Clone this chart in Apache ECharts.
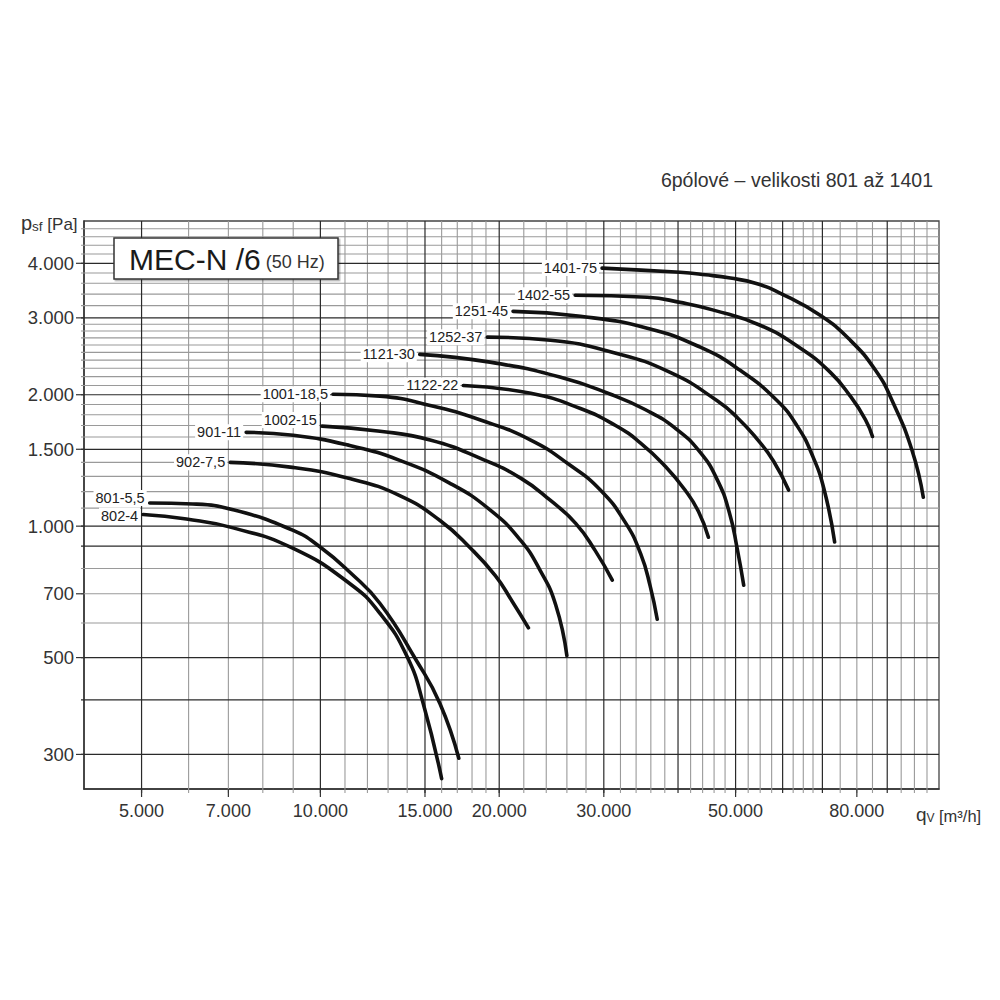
<!DOCTYPE html>
<html><head><meta charset="utf-8">
<script src="https://cdn.jsdelivr.net/npm/echarts@6/dist/echarts.min.js"></script>
<style>html,body{margin:0;padding:0;background:#fff}#c{width:1000px;height:1000px}</style>
</head><body><div id="c"></div>
<script>
const FONT = '"Liberation Sans", Arial, Helvetica, sans-serif';
const X_MIN = 4000, X_MAX = 110000, Y_MIN = 250, Y_MAX = 5000;

// tick labels
const xTickLabels = [5000, 7000, 10000, 15000, 20000, 30000, 50000, 80000];
const yTickLabels = [300, 500, 700, 1000, 1500, 2000, 3000, 4000];

// grid lines
const xGridMajor = [5000, 10000, 15000, 20000, 30000, 40000, 50000, 60000, 70000, 90000];
const xGridMinor = [6000, 7000, 8000, 9000, 11000, 12000, 13000, 14000, 16000, 17000, 18000, 19000,
  22000, 24000, 26000, 28000, 32000, 34000, 36000, 38000, 42000, 44000, 46000, 48000,
  52500, 55000, 57500, 62500, 65000, 67500, 75000, 80000, 85000, 95000, 100000, 105000];
const yGridMajor = [300, 400, 500, 900, 1000, 1500, 2000, 3000, 4000];
const yGridMinor = [600, 700, 800, 1100, 1200, 1300, 1400, 1600, 1700, 1800, 1900,
  2100, 2200, 2300, 2400, 2500, 2600, 2700, 2800, 2900, 3200, 3400, 3600, 3800, 4200, 4400, 4600, 4800];

// fan curves: [q_V m3/h, p_sf Pa]
const c801_5_5 = [[5160,1130],[6100,1124],[7130,1090],[9000,978],[9990,896],[11200,785],[12600,665],[14500,493],[15900,392],[17100,294]];
const c802_4 = [[5030,1063],[5950,1038],[7130,991],[9000,889],[11200,739],[12600,631],[14000,502],[14900,392],[16000,264]];
const c902_7_5 = [[7050,1400],[8900,1365],[11200,1285],[13600,1175],[15900,1030],[17900,890],[19700,770],[21000,675],[22400,585]];
const c901_11 = [[7500,1640],[9000,1615],[11200,1530],[13600,1415],[16500,1255],[19300,1090],[21700,930],[23400,795],[24900,660],[26000,505]];
const c1002_15 = [[10060,1695],[12600,1650],[15300,1575],[18600,1430],[21700,1290],[24400,1145],[26900,1015],[29000,880],[31000,752]];
const c1001_18_5 = [[10500,2005],[12600,1985],[15300,1890],[18600,1750],[22600,1575],[26300,1380],[29600,1210],[32600,1020],[34600,865],[35900,730],[36900,612]];
const c1122_22 = [[17400,2100],[22600,2015],[27400,1860],[31400,1700],[34600,1550],[38100,1370],[41100,1210],[43300,1080],[45000,943]];
const c1121_30 = [[14700,2475],[19300,2375],[25300,2195],[30800,2005],[35200,1850],[39600,1675],[43600,1475],[46600,1275],[48800,1075],[50300,890],[51600,732]];
const c1252_37 = [[19100,2710],[24400,2665],[31100,2500],[38800,2250],[46500,1940],[50500,1765],[54400,1580],[57900,1410],[61400,1210]];
const c1251_45 = [[21100,3105],[27400,3025],[35500,2840],[43600,2570],[50900,2275],[58700,1940],[63500,1695],[67300,1455],[70500,1210],[73400,920]];
const c1402_55 = [[26850,3380],[35500,3345],[40300,3255],[45900,3125],[55000,2885],[64300,2555],[72200,2250],[78000,1985],[82700,1755],[85000,1605]];
const c1401_75 = [[29800,3900],[40300,3815],[44500,3765],[49000,3700],[54000,3600],[59500,3415],[69400,3040],[78000,2665],[86000,2275],[91700,1940],[99100,1490],[103500,1165]];

const curveNames = ['801-5,5','802-4','902-7,5','901-11','1002-15','1001-18,5','1122-22','1121-30','1252-37','1251-45','1402-55','1401-75'];
const curveData = [c801_5_5, c802_4, c902_7_5, c901_11, c1002_15, c1001_18_5, c1122_22, c1121_30, c1252_37, c1251_45, c1402_55, c1401_75];
// vertical nudge of each curve's name tag (px, layout only)
const labelNudge = [-5, 1, 0, 0, -6, 0, 0, 0, 0, 0, 0, 0];

function fmt(v) { return String(v).replace(/\B(?=(\d{3})+(?!\d))/g, '.'); }

function gridSeries(values, vertical, color, width, tick) {
  return {
    type: 'custom', silent: true, z: 1, clip: false, animation: false,
    data: values.map(v => vertical ? [v, Y_MIN] : [X_MIN, v]),
    renderItem: (params, api) => {
      const v = api.value(vertical ? 0 : 1);
      const a = vertical ? api.coord([v, Y_MIN]) : api.coord([X_MIN, v]);
      const b = vertical ? api.coord([v, Y_MAX]) : api.coord([X_MAX, v]);
      const shape = vertical ? {x1: a[0], y1: a[1] + tick, x2: b[0], y2: b[1]}
                             : {x1: a[0] - tick, y1: a[1], x2: b[0], y2: b[1]};
      return {type: 'line', shape, style: {stroke: color, lineWidth: width}};
    }
  };
}

function labelSeries(values, vertical) {
  return {
    type: 'custom', silent: true, z: 6, clip: false, animation: false,
    data: values.map(v => vertical ? [v, Y_MIN] : [X_MIN, v]),
    renderItem: (params, api) => {
      const v = api.value(vertical ? 0 : 1);
      const p = vertical ? api.coord([v, Y_MIN]) : api.coord([X_MIN, v]);
      const txt = fmt(v);
      if (vertical) {
        return {type: 'group', children: [
          {type: 'line', shape: {x1: p[0], y1: p[1], x2: p[0], y2: p[1] + 8}, style: {stroke: '#333', lineWidth: 1.2}},
          {type: 'text', x: p[0], y: p[1] + 22, style: {text: txt, fill: '#333', fontSize: 18, fontFamily: FONT, align: 'center', verticalAlign: 'middle'}}
        ]};
      }
      return {type: 'group', children: [
        {type: 'line', shape: {x1: p[0] - 8, y1: p[1], x2: p[0], y2: p[1]}, style: {stroke: '#333', lineWidth: 1.2}},
        {type: 'text', x: p[0] - 10, y: p[1], style: {text: txt, fill: '#333', fontSize: 18.5, fontFamily: FONT, align: 'right', verticalAlign: 'middle'}}
      ]};
    }
  };
}

const series = [
  gridSeries(xGridMinor, true, '#9a9a9a', 1.1, 4),
  gridSeries(yGridMinor, false, '#9a9a9a', 1.1, 3),
  gridSeries(xGridMajor, true, '#2a2a2a', 1.2, 4),
  gridSeries(yGridMajor, false, '#2a2a2a', 1.2, 3),
  labelSeries(xTickLabels, true),
  labelSeries(yTickLabels, false)
];

curveData.forEach((d, i) => {
  series.push({
    type: 'line', name: curveNames[i], data: d, smooth: 0.5, showSymbol: false, symbol: 'none',
    silent: true, z: 10, animation: false,
    lineStyle: {color: '#111', width: 3.6, cap: 'round', join: 'round'},
    markPoint: {
      silent: true, symbol: 'circle', symbolSize: 0, animation: false,
      data: [{coord: d[0], label: {show: true, position: 'left', distance: 3, offset: [0, labelNudge[i]], formatter: curveNames[i],
        fontSize: 14.5, fontFamily: FONT, color: '#222', backgroundColor: '#fff', padding: [1, 2, 0, 2]}}]
    }
  });
});

const chart = echarts.init(document.getElementById('c'), null, {renderer: 'svg'});
chart.setOption({
  animation: false,
  backgroundColor: '#fff',
  grid: {left: 84, right: 61, top: 221, bottom: 211, show: true, borderColor: '#444', borderWidth: 1.3, backgroundColor: 'transparent'},
  xAxis: {type: 'log', logBase: 10, min: X_MIN, max: X_MAX,
    axisLine: {show: true, lineStyle: {color: '#333', width: 1.5}}, axisTick: {show: false}, axisLabel: {show: false}, splitLine: {show: false}},
  yAxis: {type: 'log', logBase: 10, min: Y_MIN, max: Y_MAX,
    axisLine: {show: true, lineStyle: {color: '#333', width: 1.5}}, axisTick: {show: false}, axisLabel: {show: false}, splitLine: {show: false}},
  title: [
    {left: 114, top: 238, text: '{a|MEC-N /6} {b|(50 Hz)}',
      backgroundColor: '#fff', borderColor: '#333', borderWidth: 1.5, padding: [6, 14, 5, 15],
      shadowColor: 'rgba(0,0,0,0.3)', shadowOffsetX: 1.5, shadowOffsetY: 1.5, shadowBlur: 1,
      textStyle: {fontSize: 18, fontFamily: FONT, fontWeight: 'normal', color: '#222',
        rich: {a: {fontSize: 30, fontFamily: FONT, color: '#1a1a1a'}, b: {fontSize: 18, fontFamily: FONT, color: '#333', padding: [5, 0, 0, 0]}}}},
    {right: 62, top: 165, text: '6pólové – velikosti 801 až 1401',
      textStyle: {fontSize: 19.5, fontFamily: FONT, fontWeight: 'normal', color: '#333'}},
    {left: 16, top: 206, text: '{p|p}{s|sf} {u|[Pa]}',
      textStyle: {fontSize: 17, fontFamily: FONT, fontWeight: 'normal', color: '#333',
        rich: {p: {fontSize: 20, fontFamily: FONT, color: '#333', lineHeight: 22, verticalAlign: 'bottom'},
               s: {fontSize: 13.5, fontFamily: FONT, color: '#333', lineHeight: 22, verticalAlign: 'bottom'},
               u: {fontSize: 17, fontFamily: FONT, color: '#333', lineHeight: 22, verticalAlign: 'bottom'}}}},
    {left: 911, top: 797, text: '{p|q}{s|V} {u|[m³/h]}',
      textStyle: {fontSize: 16, fontFamily: FONT, fontWeight: 'normal', color: '#333',
        rich: {p: {fontSize: 19, fontFamily: FONT, color: '#333', lineHeight: 22, verticalAlign: 'bottom'},
               s: {fontSize: 12, fontFamily: FONT, color: '#333', lineHeight: 22, verticalAlign: 'bottom'},
               u: {fontSize: 16.5, fontFamily: FONT, color: '#333', lineHeight: 22, verticalAlign: 'bottom'}}}}
  ],
  series
});
</script></body></html>
